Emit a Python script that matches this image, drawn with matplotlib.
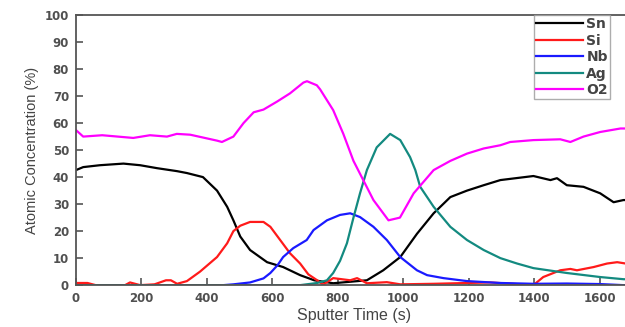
import numpy as np
import matplotlib.pyplot as plt

plt.rcParams['font.family'] = ['Liberation Sans', 'DejaVu Sans']

# depth profile, sputter time in s, concentration in at.%
sn_t = [0, 22, 73, 145, 196, 248, 309, 339, 388, 431, 462, 481, 502, 532, 584, 633, 685, 728,
        786, 889, 939, 991, 1042, 1093, 1144, 1195, 1246, 1297, 1398, 1450, 1470, 1500, 1551,
        1602, 1643, 1673, 1700]
sn_c = [42.6, 43.7, 44.4, 45, 44.4, 43.3, 42.2, 41.5, 40, 35, 29, 24, 18, 13, 8.5, 6.7, 3.7, 1.8,
        0.7, 1.8, 5.5, 10.4, 19, 26.6, 32.6, 35, 37, 38.9, 40.4, 38.9, 39.6, 37, 36.4,
        34, 30.7, 31.5, 31.5]

si_t = [0, 35, 60, 150, 165, 196, 240, 275, 290, 309, 339, 379, 431, 462, 481, 502, 532, 573,
        594, 624, 654, 685, 710, 737, 755, 786, 838, 859, 889, 950, 991, 1093, 1266, 1398,
        1428, 1480, 1511, 1531, 1582, 1623, 1654, 1680, 1700]
si_c = [0.8, 0.8, 0, 0, 1, 0, 0.3, 1.8, 1.8, 0.5, 1.5, 5, 10.4, 15.5, 20, 22, 23.4, 23.4,
        21.6, 16.7, 11.8, 8, 4, 1.8, 0.2, 2.6, 1.8, 2.6, 0.7, 1.1, 0.3, 0.5, 1, 0,
        3, 5.5, 6, 5.5, 6.7, 8, 8.5, 8, 8]

nb_t = [0, 150, 450, 481, 532, 573, 594, 616, 633, 664, 705, 726, 767, 807, 838, 868, 909, 950,
        991, 1042, 1073, 1123, 1195, 1297, 1398, 1500, 1602, 1673, 1700]
nb_c = [0, 0, 0, 0.3, 1, 2.5, 4.5, 7.4, 10.4, 13.7, 16.7, 20.4, 24, 26, 26.6, 25.2, 21.6, 16.7,
        10.4, 5.5, 3.7, 2.6, 1.5, 0.8, 0.5, 0.6, 0.4, 0, 0]

ag_t = [0, 685, 737, 767, 786, 807, 828, 848, 868, 889, 919, 960, 991, 1021, 1037, 1052, 1093,
        1144, 1195, 1246, 1297, 1348, 1398, 1500, 1602, 1673, 1700]
ag_c = [0, 0, 0.8, 1.8, 4.5, 9, 15.5, 25, 34, 42.6, 51, 56, 53.7, 47.4, 42.6, 36.4, 29,
        21.6, 16.7, 13, 10, 8, 6.3, 4.5, 3, 2.2, 2.1]

o2_t = [0, 22, 80, 175, 226, 278, 308, 349, 431, 446, 481, 512, 543, 573, 615, 654, 695, 706,
        736, 746, 786, 817, 848, 909, 955, 990, 1032, 1093, 1144, 1195, 1246, 1297, 1327,
        1398, 1480, 1511, 1551, 1602, 1664, 1700]
o2_c = [57.4, 55, 55.5, 54.5, 55.5, 55, 56, 55.7, 53.5, 53, 55, 60, 64, 65, 68, 71, 75, 75.5,
        74, 72.5, 64.8, 56, 46, 31.5, 24, 25, 34, 42.6, 46, 48.7, 50.6, 51.8, 53,
        53.7, 54, 53, 55, 56.7, 58, 58]

fig = plt.figure(figsize=(6.25, 3.27), dpi=100)
ax = fig.add_axes([0.1216, 0.128, 0.89, 0.826])

lw = 1.6
ax.plot(sn_t, sn_c, color='black', lw=lw, label='Sn')
ax.plot(si_t, si_c, color='#ff1a1a', lw=lw, label='Si')
ax.plot(nb_t, nb_c, color='#1a1aff', lw=lw, label='Nb')
ax.plot(ag_t, ag_c, color='#138a80', lw=lw, label='Ag')
ax.plot(o2_t, o2_c, color='#ff00ff', lw=lw, label='O2')

ax.set_xlim(0, 1700)
ax.set_ylim(0, 100)
ax.set_xticks(np.arange(0, 1601, 200))
ax.set_yticks(np.arange(0, 101, 10))

txt = '#444444'
for s in ax.spines.values():
    s.set_color('#555555')
    s.set_linewidth(1.3)
ax.tick_params(direction='in', colors='#555555', labelcolor='#505050', length=5, width=1.2,
               pad=5)
for lab in ax.get_xticklabels() + ax.get_yticklabels():
    lab.set_fontfamily('DejaVu Sans')
    lab.set_fontweight('bold')
    lab.set_fontsize(8.5)
ax.set_xlabel('Sputter Time (s)', fontsize=11.5, color=txt, labelpad=2)
ax.set_ylabel('Atomic Concentration (%)', fontsize=10.5, color=txt, labelpad=4)

leg = ax.legend(loc='upper right', bbox_to_anchor=(610 / 625, 312 / 327),
                bbox_transform=fig.transFigure, frameon=True, fancybox=False,
                prop={'family': 'DejaVu Sans', 'weight': 'bold', 'size': 10},
                handlelength=3.4, handletextpad=0.25, labelspacing=0.18, borderpad=0.15,
                borderaxespad=0)
leg.get_frame().set_edgecolor('#999999')
leg.get_frame().set_linewidth(1)
for t in leg.get_texts():
    t.set_color(txt)

fig.savefig('out.png', dpi=100)
